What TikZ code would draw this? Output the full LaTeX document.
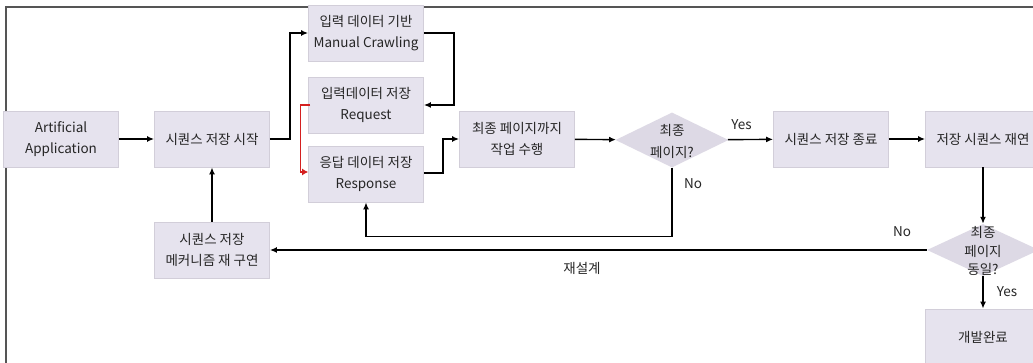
\documentclass[tikz,border=0pt]{standalone}
\usepackage{fontspec}
\setmainfont{Noto Sans CJK KR}
\usetikzlibrary{shapes.geometric,arrows.meta}
\definecolor{boxfill}{HTML}{E6E3EE}
\definecolor{boxline}{HTML}{D2CED9}
\definecolor{diafill}{HTML}{DDD9E5}
\definecolor{txtc}{HTML}{262626}
\definecolor{framec}{HTML}{555555}
\definecolor{redc}{HTML}{D42020}
\tikzset{
  box/.style={draw=boxline, line width=0.8pt, fill=boxfill, minimum width=115pt, minimum height=56pt,
    inner sep=0pt, align=center, text=txtc, font=\fontsize{13.5}{20.5}\selectfont},
  dia/.style={diamond, fill=diafill, inner sep=0pt, minimum width=113pt, minimum height=55pt},
  diatext/.style={align=center, text=txtc, inner sep=0pt},
  lbl/.style={text=txtc, font=\fontsize{13.5}{15}\selectfont, inner sep=0pt},
  arr/.style={line width=1.4pt, -{Latex[length=7pt,width=6pt]}},
  redarr/.style={line width=1.1pt, draw=redc, -{Latex[length=6pt,width=7pt]}, redc},
}
\begin{document}
\begin{tikzpicture}[x=1pt,y=-1pt]
\useasboundingbox (0,0) rectangle (1033,363);
\clip (0,0) rectangle (1033,363);
\fill[white] (0,0) rectangle (1033,363);
% frame
\draw[framec, line width=1.5pt] (6,363) -- (6,7) -- (1040,7);
% nodes
\node[box] (aa) at (61,139) {Artificial\\Application};
\node[box] (start) at (212,139) {시퀀스 저장 시작};
\node[box] (manual) at (366,33) {입력 데이터 기반\\Manual Crawling};
\node[box] (request) at (366,105) {입력데이터 저장\\Request};
\node[box] (response) at (366,174) {응답 데이터 저장\\Response};
\node[box] (work) at (517,139) {최종 페이지까지\\작업 수행};
\node[dia] (d1) at (672,140) {};
\node[diatext, font=\fontsize{13.5}{22}\selectfont] at (672,141) {최종\\페이지?};
\node[box] (end) at (831,139) {시퀀스 저장 종료};
\node[box] (replay) at (983,139) {저장 시퀀스 재연};
\node[dia, minimum height=52pt, minimum width=112pt] (d2) at (983,250) {};
\node[diatext, font=\fontsize{13.5}{18.5}\selectfont] at (983,251) {최종\\페이지\\동일?};
\node[box] (done) at (983,337) {개발완료};
\node[box] (mech) at (212,250) {시퀀스 저장\\메커니즘 재 구연};
% connectors
\draw[arr] (aa) -- (start);
\draw[arr] (start.east) -- ++(20,0) |- (manual.west);
\draw[arr] (manual.east) -- ++(30,0) |- (request.east);
\draw[redarr] ([xshift=2pt]request.west) -- ++(-10,0) |- ([yshift=2pt]response.west);
\draw[arr] ([yshift=1pt]response.east) -- ++(19,0) |- (work.west);
\draw[arr] (work) -- (d1);
\draw[arr] (d1) -- node[lbl, above=9pt, pos=0.3] {Yes} (end);
\draw[arr] (end) -- (replay);
\draw[arr] (replay) -- (d2.north);
\draw[arr] (d1.south) -- ++(0,69) -| (response.south);
\draw[arr] (d2.west) -- (mech.east);
\draw[arr] (mech) -- (start);
\draw[arr] (d2.south) -- (done.north);
% labels
\node[lbl] (lno1) at (693,184) {No};
\node[lbl] (lno2) at (902,232) {No};
\node[lbl] (lyes2) at (1007,292) {Yes};
\node[lbl] (lre) at (582,268) {재설계};
\end{tikzpicture}
\end{document}
